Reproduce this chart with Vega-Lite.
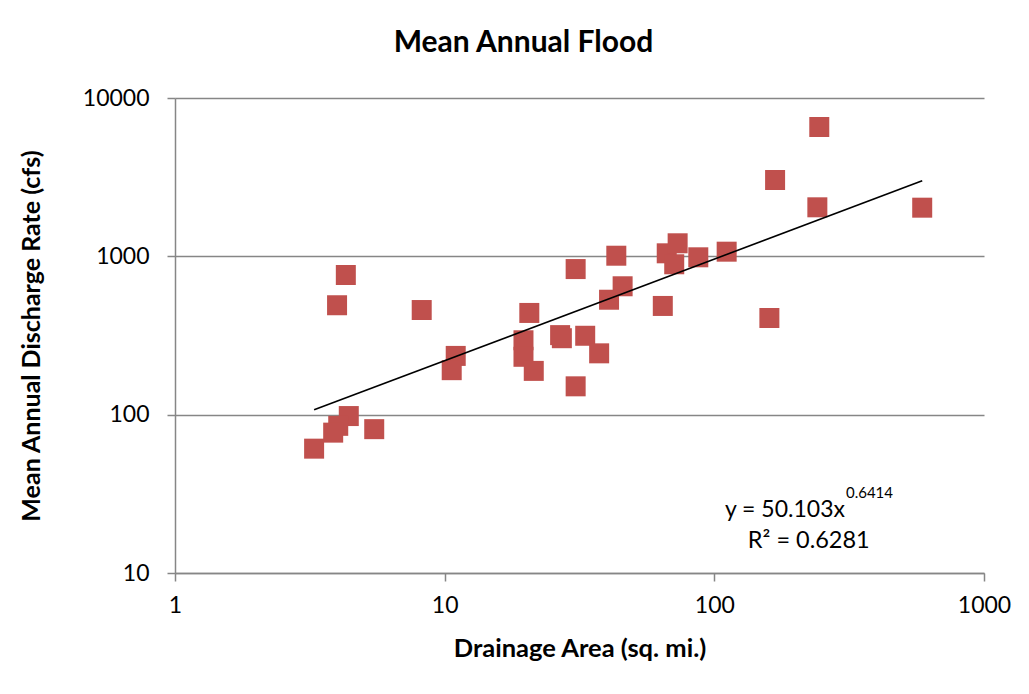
{
  "$schema": "https://vega.github.io/schema/vega-lite/v6.json",
  "width": 809,
  "height": 475,
  "autosize": {"type": "none"},
  "padding": {"left": 175, "top": 98, "right": 45, "bottom": 121},
  "background": "white",
  "config": {"view": {"stroke": null}, "font": "Lato"},
  "title": {"text": "Mean Annual Flood", "font": "Lato", "fontSize": 30, "fontWeight": "bold", "color": "black", "dx": -56, "offset": 5, "baseline": "alphabetic"},
  "datasets": {
    "obs": [
      {"area": 4.30, "discharge": 762},
      {"area": 3.99, "discharge": 491},
      {"area": 8.22, "discharge": 458},
      {"area": 10.99, "discharge": 235},
      {"area": 10.62, "discharge": 191},
      {"area": 4.41, "discharge": 98},
      {"area": 4.03, "discharge": 85},
      {"area": 3.86, "discharge": 77},
      {"area": 5.48, "discharge": 81},
      {"area": 3.28, "discharge": 61},
      {"area": 30.6, "discharge": 831},
      {"area": 43.3, "discharge": 1009},
      {"area": 66.6, "discharge": 1045},
      {"area": 73.1, "discharge": 1209},
      {"area": 71.0, "discharge": 891},
      {"area": 87.2, "discharge": 986},
      {"area": 111.1, "discharge": 1070},
      {"area": 45.7, "discharge": 647},
      {"area": 40.7, "discharge": 532},
      {"area": 64.4, "discharge": 486},
      {"area": 20.6, "discharge": 439},
      {"area": 19.6, "discharge": 295},
      {"area": 26.8, "discharge": 318},
      {"area": 27.2, "discharge": 304},
      {"area": 33.2, "discharge": 315},
      {"area": 19.6, "discharge": 232},
      {"area": 37.4, "discharge": 244},
      {"area": 21.4, "discharge": 189},
      {"area": 30.6, "discharge": 151},
      {"area": 245, "discharge": 6561},
      {"area": 168, "discharge": 3034},
      {"area": 241, "discharge": 2040},
      {"area": 590, "discharge": 2029},
      {"area": 160, "discharge": 408}
    ],
    "trend": [
      {"area": 3.28, "discharge": 107.3},
      {"area": 590, "discharge": 2999}
    ]
  },
  "encoding": {
    "x": {
      "field": "area", "type": "quantitative",
      "scale": {"type": "log", "domain": [1, 1000], "nice": false},
      "axis": {
        "title": "Drainage Area (sq. mi.)", "titleFont": "Lato", "titleFontSize": 25.5, "titleFontWeight": "bold", "titleColor": "black", "titlePadding": 19,
        "labelFont": "Lato", "labelFontSize": 23, "labelColor": "black", "labelPadding": 13, "labelFlush": false,
        "values": [1, 10, 100, 1000], "format": "d", "grid": false,
        "domainColor": "#868686", "domainWidth": 1.5, "tickColor": "#868686", "tickWidth": 1.5, "tickSize": 8
      }
    },
    "y": {
      "field": "discharge", "type": "quantitative",
      "scale": {"type": "log", "domain": [10, 10000], "nice": false},
      "axis": {
        "title": "Mean Annual Discharge Rate (cfs)", "titleFont": "Lato", "titleFontSize": 25, "titleFontWeight": "bold", "titleColor": "black", "titlePadding": 38,
        "labelFont": "Lato", "labelFontSize": 23, "labelColor": "black", "labelPadding": 18, "labelFlush": false,
        "values": [10, 100, 1000, 10000], "format": "d", "grid": true, "gridColor": "#868686", "gridWidth": 1.5,
        "domainColor": "#868686", "domainWidth": 1.5, "tickColor": "#868686", "tickWidth": 1.5, "tickSize": 8
      }
    }
  },
  "layer": [
    {"data": {"name": "obs"}, "mark": {"type": "point", "shape": "square", "filled": true, "size": 400, "color": "#C0504D", "opacity": 1}},
    {"data": {"name": "trend"}, "mark": {"type": "line", "color": "black", "strokeWidth": 1.6}},
    {"data": {"values": [{"area": 305, "discharge": 22.6, "label": "y = 50.103x"}]}, "mark": {"type": "text", "align": "right", "baseline": "alphabetic", "fontSize": 23, "font": "Lato", "color": "black"}, "encoding": {"text": {"field": "label"}}},
    {"data": {"values": [{"area": 307.7, "discharge": 29.8, "label": "0.6414"}]}, "mark": {"type": "text", "align": "left", "baseline": "alphabetic", "fontSize": 15, "font": "Lato", "color": "black"}, "encoding": {"text": {"field": "label"}}},
    {"data": {"values": [{"area": 224, "discharge": 14.4, "label": "R² = 0.6281"}]}, "mark": {"type": "text", "align": "center", "baseline": "alphabetic", "fontSize": 23.5, "font": "Lato", "color": "black"}, "encoding": {"text": {"field": "label"}}}
  ]
}
